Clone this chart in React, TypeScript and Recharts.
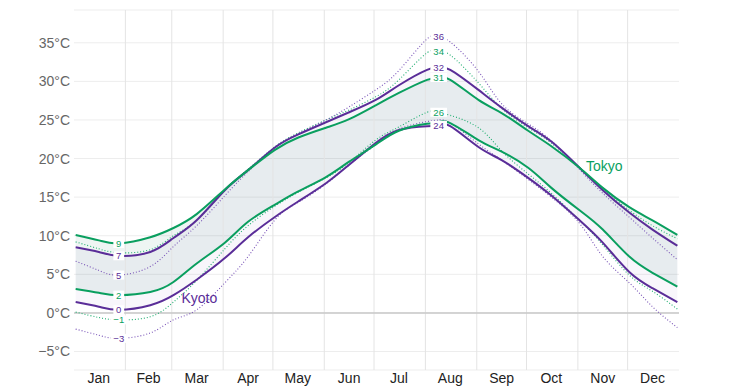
import {
  Area,
  CartesianGrid,
  ComposedChart,
  Line,
  ReferenceLine,
  XAxis,
  YAxis,
} from "recharts";

// day of year (0 = Jan 1)
const days = [1, 15, 27, 46, 60, 74, 91, 105, 121, 135, 152, 166, 182, 196, 213, 220, 227, 244, 258, 274, 288, 305, 319, 335, 349, 364];

const tokyoHigh = [10.1, 9.4, 9.0, 9.8, 11.0, 12.8, 16.0, 18.5, 21.1, 22.7, 24.0, 25.1, 26.9, 28.5, 30.2, 30.5, 30.2, 27.6, 25.9, 23.6, 21.6, 18.8, 16.2, 13.7, 12.0, 10.1];
const tokyoLow = [3.1, 2.6, 2.3, 2.7, 4.0, 6.4, 9.1, 11.8, 14.0, 15.7, 17.6, 19.6, 21.8, 23.6, 24.5, 24.7, 24.6, 22.4, 20.9, 18.8, 16.2, 13.3, 10.8, 7.3, 5.2, 3.4];
const kyotoHigh = [8.5, 7.9, 7.4, 7.9, 9.7, 12.0, 15.9, 18.5, 21.4, 23.1, 24.7, 26.0, 27.6, 29.5, 31.5, 31.8, 31.5, 28.9, 26.6, 24.2, 22.2, 18.8, 15.9, 13.0, 10.8, 8.7];
const kyotoLow = [1.4, 0.8, 0.4, 1.0, 2.3, 4.3, 7.1, 9.8, 12.4, 14.4, 16.8, 19.2, 22.0, 23.7, 24.2, 24.3, 24.2, 21.5, 19.8, 17.5, 15.2, 12.0, 9.1, 5.3, 3.2, 1.4];
const tokyoHighDotted = [9.2, 8.3, 7.8, 8.2, 10.0, 12.0, 15.9, 18.6, 21.5, 23.3, 25.0, 26.3, 28.0, 30.2, 33.7, 33.9, 33.4, 29.8, 26.5, 24.0, 22.0, 18.8, 16.0, 13.3, 11.3, 9.6];
const kyotoHighDotted = [6.7, 5.5, 4.9, 6.0, 8.6, 11.3, 15.2, 18.3, 21.4, 23.2, 25.0, 26.7, 28.9, 31.4, 35.5, 35.8, 35.1, 31.3, 27.1, 24.5, 22.3, 18.6, 15.5, 12.4, 9.7, 6.9];
const tokyoLowDotted = [0.1, -0.6, -0.9, -0.5, 1.4, 4.2, 8.3, 11.3, 13.8, 15.6, 17.5, 19.5, 22.4, 24.1, 26.0, 26.0, 25.6, 24.0, 21.0, 18.0, 15.5, 12.0, 8.8, 4.9, 2.8, 0.5];
const kyotoLowDotted = [-2.1, -2.9, -3.3, -2.6, -0.9, 0.4, 3.9, 7.3, 12.0, 14.3, 16.7, 19.2, 21.8, 23.8, 24.8, 25.0, 24.6, 21.9, 19.8, 17.3, 15.0, 11.6, 7.3, 3.9, 0.8, -1.9];

const monthNames = ["Jan", "Feb", "Mar", "Apr", "May", "Jun", "Jul", "Aug", "Sep", "Oct", "Nov", "Dec"];
const monthMid = [15, 45, 74, 105, 135, 166, 196, 227, 258, 288, 319, 349];
const monthStart = [31, 59, 90, 120, 151, 181, 212, 243, 273, 304, 334];
const tempTicks = [-5, 0, 5, 10, 15, 20, 25, 30, 35];

const JAN = 2;
const AUG = 15;

const GREEN = "#0a9f5f";
const GREEN_DOT = "#1fae70";
const PURPLE = "#5a2d98";
const PURPLE_DOT = "#7a55b8";
const FONT = "'Liberation Sans', Arial, sans-serif";

const data = days.map((d, i) => ({
  day: d,
  tokyoHigh: tokyoHigh[i],
  tokyoLow: tokyoLow[i],
  kyotoHigh: kyotoHigh[i],
  kyotoLow: kyotoLow[i],
  tokyoHighDotted: tokyoHighDotted[i],
  kyotoHighDotted: kyotoHighDotted[i],
  tokyoLowDotted: tokyoLowDotted[i],
  kyotoLowDotted: kyotoLowDotted[i],
  tokyoBand: [tokyoLow[i], tokyoHigh[i]],
  kyotoBand: [kyotoLow[i], kyotoHigh[i]],
}));

const fmtNum = (v: number) => (v < 0 ? "\u2212" + Math.abs(v) : String(v));

function makeLabel(color: string, indices: number[], name?: { index: number; text: string; dx: number; dy: number }) {
  return (p: any) => {
    const { x, y, value, index } = p;
    if (name && index === name.index) {
      return (
        <text key={"n" + index} x={x + name.dx} y={y + name.dy} fontSize={14} fill={color} fontFamily={FONT}>
          {name.text}
        </text>
      );
    }
    if (!indices.includes(index)) return null;
    const txt = fmtNum(Math.round(value));
    const w = txt.length * 5.8 + 5;
    return (
      <g key={"l" + index}>
        <rect x={x - w / 2} y={y - 4.5} width={w} height={9} fill="#ffffff" />
        <text x={x} y={y + 3.5} textAnchor="middle" fontSize={9.5} fill={color} fontFamily={FONT}>
          {txt}
        </text>
      </g>
    );
  };
}

const dotted = { strokeWidth: 1.1, strokeDasharray: "1 2", dot: false, isAnimationActive: false } as const;
const solid = { strokeWidth: 2, dot: false, isAnimationActive: false } as const;

export default function App() {
  return (
    <div style={{ position: "absolute", left: 0, top: 0, width: 753, height: 387, background: "#fff" }}>
      <ComposedChart width={753} height={387} data={data} margin={{ top: 10, right: 0, bottom: 0, left: 0 }}>
        <CartesianGrid vertical={false} stroke="#ededed" />
        {monthStart.map((m) => (
          <ReferenceLine key={m} x={m} stroke="#e4e4e4" />
        ))}
        <ReferenceLine y={0} stroke="#c9c9c9" strokeWidth={1.5} />
        <XAxis
          dataKey="day"
          type="number"
          domain={[0, 365]}
          ticks={monthMid}
          tickFormatter={(v) => monthNames[monthMid.indexOf(v)] ?? ""}
          axisLine={false}
          tickLine={false}
          tickSize={0}
          tickMargin={3}
          height={17}
          interval={0}
          tick={{ fill: "#222", fontSize: 14, fontFamily: FONT }}
        />
        <YAxis
          domain={[-7.4, 39.25]}
          ticks={tempTicks}
          tickFormatter={(v) => fmtNum(v) + "°C"}
          axisLine={false}
          tickLine={false}
          tickSize={0}
          tickMargin={4}
          width={74}
          interval={0}
          tick={{ fill: "#666", fontSize: 14, fontFamily: FONT }}
        />
        <YAxis
          yAxisId="right"
          orientation="right"
          domain={[-7.4, 39.25]}
          ticks={tempTicks}
          tickFormatter={(v) => fmtNum(v) + "°C"}
          axisLine={false}
          tickLine={false}
          tickSize={0}
          tickMargin={3}
          width={74}
          interval={0}
          tick={{ fill: "#666", fontSize: 14, fontFamily: FONT }}
        />
        <Area type="natural" dataKey="kyotoBand" stroke="none" fill="#5a2d98" fillOpacity={0.045} isAnimationActive={false} />
        <Area type="natural" dataKey="tokyoBand" stroke="none" fill="#0b6e5a" fillOpacity={0.07} isAnimationActive={false} />
        <Line type="natural" dataKey="tokyoHighDotted" stroke={GREEN_DOT} {...dotted} label={makeLabel(GREEN, [AUG])} />
        <Line type="natural" dataKey="tokyoLowDotted" stroke={GREEN_DOT} {...dotted} label={makeLabel(GREEN, [JAN, AUG])} />
        <Line type="natural" dataKey="kyotoHighDotted" stroke={PURPLE_DOT} {...dotted} label={makeLabel(PURPLE, [JAN, AUG])} />
        <Line type="natural" dataKey="kyotoLowDotted" stroke={PURPLE_DOT} {...dotted} label={makeLabel(PURPLE, [JAN])} />
        <Line type="natural" dataKey="kyotoHigh" stroke={PURPLE} {...solid} label={makeLabel(PURPLE, [JAN, AUG])} />
        <Line type="natural" dataKey="kyotoLow" stroke={PURPLE} {...solid} label={makeLabel(PURPLE, [JAN, AUG], { index: 4, text: "Kyoto", dx: 8, dy: 8 })} />
        <Line type="natural" dataKey="tokyoHigh" stroke={GREEN} {...solid} label={makeLabel(GREEN, [JAN, AUG], { index: 21, text: "Tokyo", dx: 6.5, dy: 3 })} />
        <Line type="natural" dataKey="tokyoLow" stroke={GREEN} {...solid} label={makeLabel(GREEN, [JAN])} />
      </ComposedChart>
    </div>
  );
}
